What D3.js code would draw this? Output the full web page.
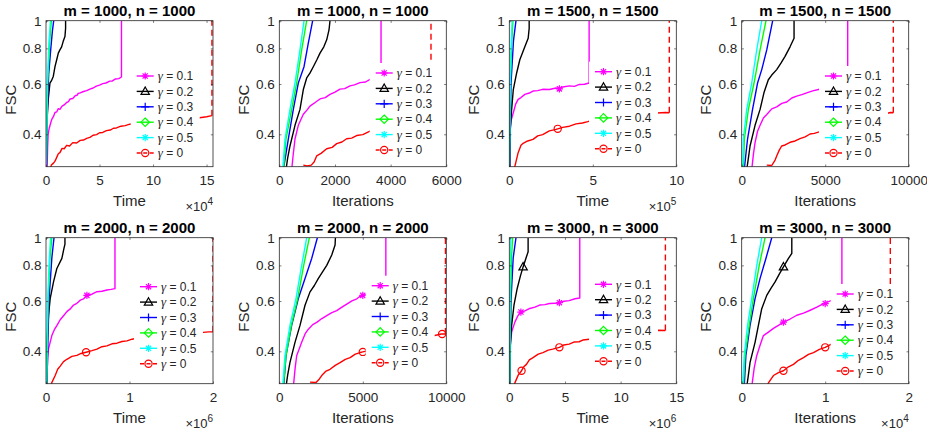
<!DOCTYPE html>
<html>
<head>
<meta charset="utf-8">
<script src="https://cdn.jsdelivr.net/npm/d3@7"></script>
<style>
  body { margin: 0; background: #fff; }
  text { font-family: "Liberation Sans", Arial, sans-serif; fill: #262626; }
</style>
</head>
<body>
<div id="chart"></div>
<script>
// legend entries, one per series (same order as in every panel array)
const gammas = ["0.1", "0.2", "0.3", "0.4", "0.5", "0"];

const titles = ["m = 1000, n = 1000", "m = 1000, n = 1000", "m = 1500, n = 1500", "m = 1500, n = 1500",
                "m = 2000, n = 2000", "m = 2000, n = 2000", "m = 3000, n = 3000", "m = 3000, n = 3000"];
const xLabels = ["Time", "Iterations", "Time", "Iterations", "Time", "Iterations", "Time", "Iterations"];
const xMax = [15.6, 6000, 10, 10000, 2, 10000, 15, 2];
const xTicks = [[0, 5, 10, 15], [0, 2000, 4000, 6000], [0, 5, 10], [0, 5000, 10000],
                [0, 1, 2], [0, 5000, 10000], [0, 5, 10, 15], [0, 1, 2]];
const xExp = [4, 0, 5, 0, 6, 0, 6, 4];
const yTicks = [0.4, 0.6, 0.8, 1];
const yMin = 0.308;

// FSC curves, [x, FSC]; order: γ=0.1, 0.2, 0.3, 0.4, 0.5, 0
const time1000 = [
  [[0.1,0.30],[0.15,0.36],[0.2,0.40],[0.3,0.42],[0.45,0.44],[0.55,0.452],[0.7,0.462],[0.84,0.477],[1.0,0.479],[1.15,0.492],[1.3,0.489],[1.5,0.502],[1.7,0.507],[1.9,0.516],[2.1,0.521],[2.25,0.532],[2.5,0.534],[2.75,0.547],[2.9,0.548],[3.0,0.556],[3.2,0.559],[3.5,0.565],[3.8,0.569],[4.1,0.576],[4.4,0.581],[4.7,0.59],[5.0,0.595],[5.3,0.602],[5.6,0.605],[5.96,0.614],[6.2,0.615],[6.5,0.625],[6.8,0.627],[7.05,0.635],[7.05,1]],
  [[0.03,0.30],[0.1,0.45],[0.21,0.53],[0.37,0.605],[0.5,0.615],[0.68,0.638],[0.84,0.69],[1.0,0.73],[1.15,0.77],[1.3,0.79],[1.46,0.81],[1.6,0.845],[1.77,0.88],[1.83,0.94],[1.83,1]],
  [[0.03,0.30],[0.1,0.45],[0.25,0.65],[0.45,0.8],[0.6,0.92],[0.72,1]],
  [[0.02,0.30],[0.15,0.6],[0.35,0.85],[0.5,1]],
  [[0.02,0.30],[0.12,0.6],[0.28,0.85],[0.42,1]],
  [[0.35,0.30],[0.5,0.312],[0.7,0.317],[0.84,0.322],[1.0,0.332],[1.15,0.342],[1.3,0.345],[1.5,0.357],[1.7,0.356],[1.93,0.366],[2.2,0.364],[2.5,0.374],[2.86,0.373],[3.2,0.381],[3.5,0.382],[3.8,0.387],[4.1,0.39],[4.4,0.397],[4.73,0.399],[5.0,0.405],[5.3,0.406],[5.65,0.412],[6.0,0.414],[6.3,0.42],[6.58,0.421],[7.0,0.427],[7.4,0.429],[7.83,0.434],[9,0.44],[11,0.448],[13,0.455],[14.35,0.457],[15.0,0.461],[15.5,0.465],[15.5,1]]
];
const iter1000 = [
  [[445,0.30],[500,0.34],[564,0.385],[683,0.43],[863,0.47],[1000,0.487],[1102,0.502],[1300,0.518],[1462,0.532],[1650,0.538],[1822,0.552],[2000,0.562],[2181,0.576],[2350,0.578],[2540,0.591],[2700,0.596],[2899,0.607],[3100,0.61],[3258,0.623],[3350,0.615],[3655,0.64],[3655,1]],
  [[240,0.30],[300,0.33],[384,0.364],[564,0.43],[743,0.489],[863,0.574],[984,0.63],[1100,0.655],[1222,0.69],[1350,0.73],[1462,0.77],[1600,0.81],[1703,0.857],[1786,0.928],[1822,1]],
  [[144,0.30],[324,0.385],[504,0.489],[683,0.605],[888,0.69],[1042,0.834],[1199,1]],
  [[150,0.30],[240,0.385],[445,0.489],[624,0.605],[804,0.79],[984,1]],
  [[120,0.30],[205,0.385],[384,0.489],[564,0.605],[743,0.79],[888,1]],
  [[863,0.312],[1000,0.31],[1150,0.312],[1250,0.32],[1342,0.336],[1500,0.343],[1703,0.356],[1900,0.36],[2061,0.371],[2250,0.376],[2420,0.386],[2600,0.388],[2780,0.396],[3000,0.399],[3258,0.41],[3350,0.405],[5450,0.45],[5450,1]]
];
const time1500 = [
  [[0.02,0.30],[0.04,0.405],[0.12,0.45],[0.24,0.476],[0.38,0.51],[0.53,0.53],[0.7,0.538],[0.93,0.552],[1.2,0.558],[1.42,0.567],[1.7,0.569],[2.0,0.575],[2.4,0.574],[2.8,0.581],[3.0,0.577],[3.2,0.586],[3.6,0.591],[3.9,0.589],[4.2,0.598],[4.5,0.599],[4.78,0.605],[4.78,1]],
  [[0.02,0.30],[0.04,0.405],[0.14,0.489],[0.24,0.574],[0.44,0.656],[0.63,0.73],[0.93,0.81],[1.13,0.868],[1.19,0.94],[1.19,1]],
  [[0.02,0.30],[0.1,0.6],[0.25,0.85],[0.4,1]],
  [[0.0,0.30],[0.06,0.6],[0.15,0.85],[0.22,1]],
  [[0.0,0.30],[0.05,0.6],[0.12,0.85],[0.17,1]],
  [[0.3,0.30],[0.34,0.31],[0.53,0.345],[0.7,0.366],[0.83,0.372],[1.1,0.379],[1.42,0.384],[1.7,0.395],[2.0,0.399],[2.4,0.411],[2.8,0.416],[2.9,0.418],[3.2,0.423],[3.6,0.427],[4.0,0.435],[4.38,0.438],[4.7,0.443],[4.98,0.448],[8.6,0.474],[9.35,0.477],[9.58,0.476],[9.58,1]]
];
const iter1500 = [
  [[600,0.30],[700,0.34],[800,0.374],[950,0.41],[1100,0.43],[1300,0.456],[1500,0.469],[1800,0.491],[2096,0.499],[2400,0.513],[2695,0.519],[3000,0.536],[3293,0.544],[3600,0.551],[3892,0.559],[4250,0.568],[4590,0.574],[6347,0.62],[6347,1]],
  [[300,0.30],[400,0.33],[500,0.364],[800,0.43],[1100,0.489],[1335,0.56],[1595,0.621],[1800,0.645],[2096,0.674],[2350,0.71],[2595,0.75],[2895,0.81],[3135,0.868],[3135,1]],
  [[150,0.30],[350,0.385],[650,0.489],[950,0.605],[1200,0.674],[1500,0.79],[1856,1]],
  [[100,0.30],[160,0.385],[400,0.489],[740,0.605],[1100,0.79],[1455,1]],
  [[60,0.30],[100,0.385],[300,0.489],[600,0.605],[900,0.79],[1200,1]],
  [[1500,0.312],[1800,0.311],[2000,0.325],[2096,0.336],[2250,0.352],[2395,0.364],[2600,0.367],[2895,0.375],[3200,0.379],[3490,0.386],[3800,0.392],[4090,0.401],[4350,0.403],[4590,0.407],[8900,0.477],[9078,0.476],[9078,1]]
];
const time2000 = [
  [[0.008,0.30],[0.02,0.38],[0.03,0.408],[0.07,0.454],[0.1,0.476],[0.13,0.492],[0.17,0.516],[0.21,0.533],[0.25,0.551],[0.29,0.563],[0.33,0.581],[0.37,0.589],[0.41,0.604],[0.45,0.611],[0.49,0.628],[0.55,0.634],[0.61,0.647],[0.67,0.649],[0.73,0.656],[0.78,0.659],[0.826,0.663],[0.826,1]],
  [[0.008,0.30],[0.01,0.408],[0.03,0.534],[0.05,0.612],[0.09,0.7],[0.13,0.78],[0.19,0.846],[0.215,0.918],[0.227,0.95],[0.227,1]],
  [[0.01,0.30],[0.035,0.6],[0.07,0.85],[0.096,1]],
  [[0.008,0.30],[0.025,0.6],[0.048,0.85],[0.07,1]],
  [[0.005,0.30],[0.02,0.6],[0.04,0.85],[0.055,1]],
  [[0.06,0.30],[0.068,0.31],[0.11,0.329],[0.14,0.346],[0.17,0.355],[0.21,0.368],[0.25,0.375],[0.31,0.384],[0.37,0.387],[0.42,0.393],[0.48,0.397],[0.55,0.402],[0.61,0.407],[0.67,0.415],[0.73,0.418],[0.79,0.425],[0.85,0.427],[0.91,0.433],[0.97,0.435],[1.03,0.441],[1.09,0.445],[1.95,0.468],[2.0,0.468],[2.0,1]]
];
const iter2000 = [
  [[840,0.30],[950,0.35],[1040,0.386],[1340,0.43],[1550,0.461],[1740,0.478],[2000,0.496],[2240,0.505],[2550,0.521],[2840,0.533],[3150,0.546],[3440,0.555],[3750,0.571],[4040,0.585],[4350,0.601],[4640,0.611],[4800,0.621],[5000,0.628],[6380,0.66],[6380,1]],
  [[400,0.30],[500,0.33],[640,0.366],[940,0.43],[1240,0.493],[1540,0.58],[1840,0.646],[2100,0.68],[2340,0.72],[2600,0.76],[2840,0.8],[3140,0.87],[3340,0.943],[3360,1]],
  [[260,0.30],[400,0.386],[740,0.493],[1140,0.612],[1540,0.72],[1940,0.846],[2280,1]],
  [[240,0.30],[400,0.386],[720,0.493],[1100,0.612],[1460,0.8],[1800,1]],
  [[200,0.30],[340,0.386],[640,0.493],[1000,0.612],[1340,0.8],[1640,1]],
  [[1840,0.312],[2200,0.311],[2400,0.32],[2540,0.329],[2800,0.341],[3040,0.346],[3350,0.357],[3640,0.365],[3950,0.375],[4240,0.38],[4550,0.391],[4840,0.396],[5000,0.398],[9700,0.46],[9950,0.46],[9950,1]]
];
const time3000 = [
  [[0.03,0.30],[0.06,0.408],[0.21,0.467],[0.5,0.506],[0.75,0.531],[1.04,0.549],[1.4,0.554],[1.84,0.565],[2.3,0.571],[2.73,0.581],[3.2,0.583],[3.6,0.588],[4.1,0.589],[4.5,0.592],[4.9,0.599],[5.38,0.602],[5.9,0.611],[6.33,0.615],[6.33,1]],
  [[0.03,0.30],[0.06,0.408],[0.21,0.493],[0.42,0.58],[0.71,0.664],[1.0,0.735],[1.24,0.79],[1.54,0.857],[1.69,0.893],[1.69,1]],
  [[0.05,0.30],[0.15,0.6],[0.35,0.85],[0.6,1]],
  [[0.03,0.30],[0.1,0.6],[0.2,0.85],[0.3,1]],
  [[0.02,0.30],[0.05,0.6],[0.09,0.85],[0.12,1]],
  [[0.4,0.30],[0.5,0.31],[0.8,0.33],[1.1,0.342],[1.3,0.353],[1.54,0.36],[1.8,0.373],[2.13,0.38],[2.6,0.391],[3.02,0.396],[3.5,0.404],[3.9,0.407],[4.5,0.413],[4.9,0.421],[5.38,0.424],[5.8,0.431],[6.27,0.432],[6.6,0.438],[7.0,0.44],[13.37,0.474],[14.02,0.473],[14.02,1]]
];
const iter3000 = [
  [[0.12,0.30],[0.15,0.35],[0.18,0.386],[0.22,0.42],[0.26,0.454],[0.32,0.467],[0.38,0.481],[0.44,0.493],[0.5,0.506],[0.58,0.519],[0.66,0.535],[0.74,0.544],[0.82,0.557],[0.9,0.571],[0.98,0.588],[1.08,0.603],[1.2,0.61],[1.2,1]],
  [[0.06,0.30],[0.08,0.33],[0.1,0.366],[0.16,0.43],[0.2,0.493],[0.24,0.564],[0.3,0.628],[0.35,0.665],[0.4,0.7],[0.45,0.745],[0.5,0.79],[0.56,0.846],[0.6,0.881],[0.6,1]],
  [[0.03,0.30],[0.05,0.386],[0.1,0.493],[0.16,0.612],[0.22,0.72],[0.29,0.846],[0.36,1]],
  [[0.02,0.30],[0.04,0.386],[0.09,0.493],[0.14,0.612],[0.21,0.8],[0.28,1]],
  [[0.012,0.30],[0.03,0.386],[0.07,0.493],[0.12,0.612],[0.18,0.8],[0.24,1]],
  [[0.3,0.30],[0.32,0.31],[0.38,0.329],[0.44,0.337],[0.5,0.342],[0.56,0.353],[0.62,0.36],[0.68,0.372],[0.74,0.38],[0.8,0.39],[0.86,0.396],[0.93,0.406],[1.0,0.413],[1.08,0.425],[1.78,0.46],[1.78,1]]
];
const panelSeries = [time1000, iter1000, time1500, iter1500, time2000, iter2000, time3000, iter3000];

// visible markers: [series index, x, FSC]
const panelMarkers = [
  [], [],
  [[0, 3.0, 0.577], [5, 2.9, 0.418]],
  [],
  [[0, 0.49, 0.628], [5, 0.48, 0.397]],
  [[0, 5000, 0.628], [5, 5000, 0.398], [5, 9750, 0.46]],
  [[1, 1.24, 0.79], [0, 1.04, 0.549], [0, 4.5, 0.592], [5, 1.1, 0.342], [5, 4.5, 0.413]],
  [[1, 0.5, 0.79], [0, 0.5, 0.506], [0, 1.0, 0.588], [5, 0.5, 0.342], [5, 1.0, 0.413]]
];

// styles
const colors = ["#ff00ff", "#000000", "#0000ff", "#00ff00", "#00ffff", "#ff0000"];
const shapes = ["star", "triangle", "plus", "diamond", "star", "circle"];

// layout
const colLeft = [46, 279.3, 509.3, 741.7],
      rowTop = [20.7, 237.7],
      pw = 167, ph = 146;
const legendPos = [[90.7, 55.3], [96.4, 52.3], [85.7, 51], [83.3, 55.3],
                   [94, 49], [92.4, 48], [85.7, 46.6], [95, 56.3]];
const axisColor = "#262626";

const svg = d3.select("#chart").append("svg")
    .attr("width", 927)
    .attr("height", 433);

const drawMarker = (sel, shape, cx, cy, color) => {
  const s = 3.6;
  let d;
  if (shape === "star") {
    const k = s * 0.72;
    d = `M${cx - s},${cy}H${cx + s}M${cx},${cy - s}V${cy + s}` +
        `M${cx - k},${cy - k}L${cx + k},${cy + k}M${cx - k},${cy + k}L${cx + k},${cy - k}`;
  } else if (shape === "plus") {
    d = `M${cx - s - 0.5},${cy}H${cx + s + 0.5}M${cx},${cy - s - 0.5}V${cy + s + 0.5}`;
  } else if (shape === "triangle") {
    d = `M${cx},${cy - s - 0.8}L${cx + s + 0.6},${cy + s - 0.6}L${cx - s - 0.6},${cy + s - 0.6}Z`;
  } else if (shape === "diamond") {
    d = `M${cx},${cy - s - 0.6}L${cx + s + 0.6},${cy}L${cx},${cy + s + 0.6}L${cx - s - 0.6},${cy}Z`;
  }
  if (shape === "circle") {
    sel.append("circle")
      .attr("cx", cx).attr("cy", cy).attr("r", s)
      .attr("fill", "none").attr("stroke", color).attr("stroke-width", 1.2);
  } else {
    sel.append("path")
      .attr("d", d)
      .attr("fill", "none")
      .attr("stroke", color)
      .attr("stroke-width", 1.2);
  }
};

panelSeries.forEach((series, i) => {
  const x0 = colLeft[i % 4], y0 = rowTop[Math.floor(i / 4)];
  const g = svg.append("g")
    .attr("transform", "translate(" + x0 + "," + y0 + ")");

  const xScale = d3.scaleLinear().domain([0, xMax[i]]).range([0, pw]),
        yScale = d3.scaleLog().domain([yMin, 1]).range([ph, 0]);

  g.append("rect")
    .attr("width", pw).attr("height", ph)
    .attr("fill", "#fff");

  g.append("clipPath")
    .attr("id", "clip" + i)
    .append("rect")
    .attr("width", pw)
    .attr("height", ph);

  const plot = g.append("g").attr("clip-path", "url(#clip" + i + ")");
  const line = d3.line()
    .x(d => xScale(d[0]))
    .y(d => yScale(d[1]));

  series.forEach((pts, s) => {
    const dashed = s === 5;
    const body = dashed ? pts.slice(0, -1) : pts;
    plot.append("path")
      .attr("d", line(body))
      .attr("fill", "none")
      .attr("stroke", colors[s])
      .attr("stroke-width", 1.4)
      .attr("stroke-linejoin", "round");
    if (dashed) {
      plot.append("path")
        .attr("d", line(pts.slice(-2)))
        .attr("fill", "none")
        .attr("stroke", colors[s])
        .attr("stroke-width", 1.4)
        .style("stroke-dasharray", ("6, 4"));
    }
  });

  panelMarkers[i].forEach(([s, mx, my]) => {
    drawMarker(plot, shapes[s], xScale(mx), yScale(my), colors[s]);
  });

  // legend (white box, no border)
  const [lx, ly] = legendPos[i];
  const lg = g.append("g");
  lg.append("rect")
    .attr("x", lx - 6)
    .attr("y", ly - 10)
    .attr("width", 69)
    .attr("height", 5 * 15.4 + 19)
    .attr("fill", "#fff");
  gammas.forEach((gm, s) => {
    const yy = ly + s * 15.4;
    lg.append("line")
      .attr("x1", lx).attr("x2", lx + 17)
      .attr("y1", yy).attr("y2", yy)
      .attr("stroke", colors[s])
      .attr("stroke-width", 1.4)
      .style("stroke-dasharray", s === 5 ? "4, 2.5" : null);
    drawMarker(lg, shapes[s], lx + 8.5, yy, colors[s]);
    const t = lg.append("text")
      .attr("x", lx + 21)
      .attr("y", yy + 4.3)
      .attr("font-size", 12);
    t.append("tspan")
      .style("font-family", "'Liberation Serif', serif")
      .style("font-style", "italic")
      .attr("font-size", 13)
      .text("γ");
    t.append("tspan").text(" = " + gm);
  });

  // axes, ticks inside on all four sides
  const fmt = d => String(d);
  const styleAxis = sel => {
    sel.select(".domain").remove();
    sel.selectAll("line").attr("stroke", axisColor).attr("stroke-width", 0.6);
    sel.selectAll("text")
      .attr("fill", axisColor)
      .style("font-family", "'Liberation Sans', Arial, sans-serif")
      .attr("font-size", 13.5);
  };

  g.append("g")
    .attr("transform", "translate(0," + ph + ")")
    .call(d3.axisBottom(xScale).tickValues(xTicks[i]).tickSize(-2.2).tickPadding(9).tickFormat(fmt))
    .call(styleAxis);
  g.append("g")
    .call(d3.axisTop(xScale).tickValues(xTicks[i]).tickSize(-2.2).tickFormat(""))
    .call(styleAxis);
  g.append("g")
    .call(d3.axisLeft(yScale).tickValues(yTicks).tickSize(-2.2).tickPadding(4.5).tickFormat(fmt))
    .call(styleAxis);
  g.append("g")
    .attr("transform", "translate(" + pw + ",0)")
    .call(d3.axisRight(yScale).tickValues(yTicks).tickSize(-2.2).tickFormat(""))
    .call(styleAxis);

  g.append("rect")
    .attr("width", pw).attr("height", ph)
    .attr("fill", "none")
    .attr("stroke", axisColor)
    .attr("stroke-width", 0.8);

  // labels
  g.append("text")
    .attr("x", pw / 2).attr("y", -4.5)
    .attr("text-anchor", "middle")
    .attr("font-size", 15)
    .attr("font-weight", "bold")
    .style("fill", "#000")
    .text(titles[i]);

  g.append("text")
    .attr("x", pw / 2).attr("y", ph + 39.5)
    .attr("text-anchor", "middle")
    .attr("font-size", 15)
    .text(xLabels[i]);

  g.append("text")
    .attr("transform", "translate(-30.5," + (ph / 2 + 6) + ") rotate(-90)")
    .attr("text-anchor", "middle")
    .attr("font-size", 15)
    .text("FSC");

  if (xExp[i]) {
    const e = g.append("text")
      .attr("x", pw).attr("y", ph + 44)
      .attr("text-anchor", "end")
      .attr("font-size", 13);
    e.append("tspan").text("×10");
    e.append("tspan").attr("dy", -6).attr("font-size", 10).text(xExp[i]);
  }
});
</script>
</body>
</html>
